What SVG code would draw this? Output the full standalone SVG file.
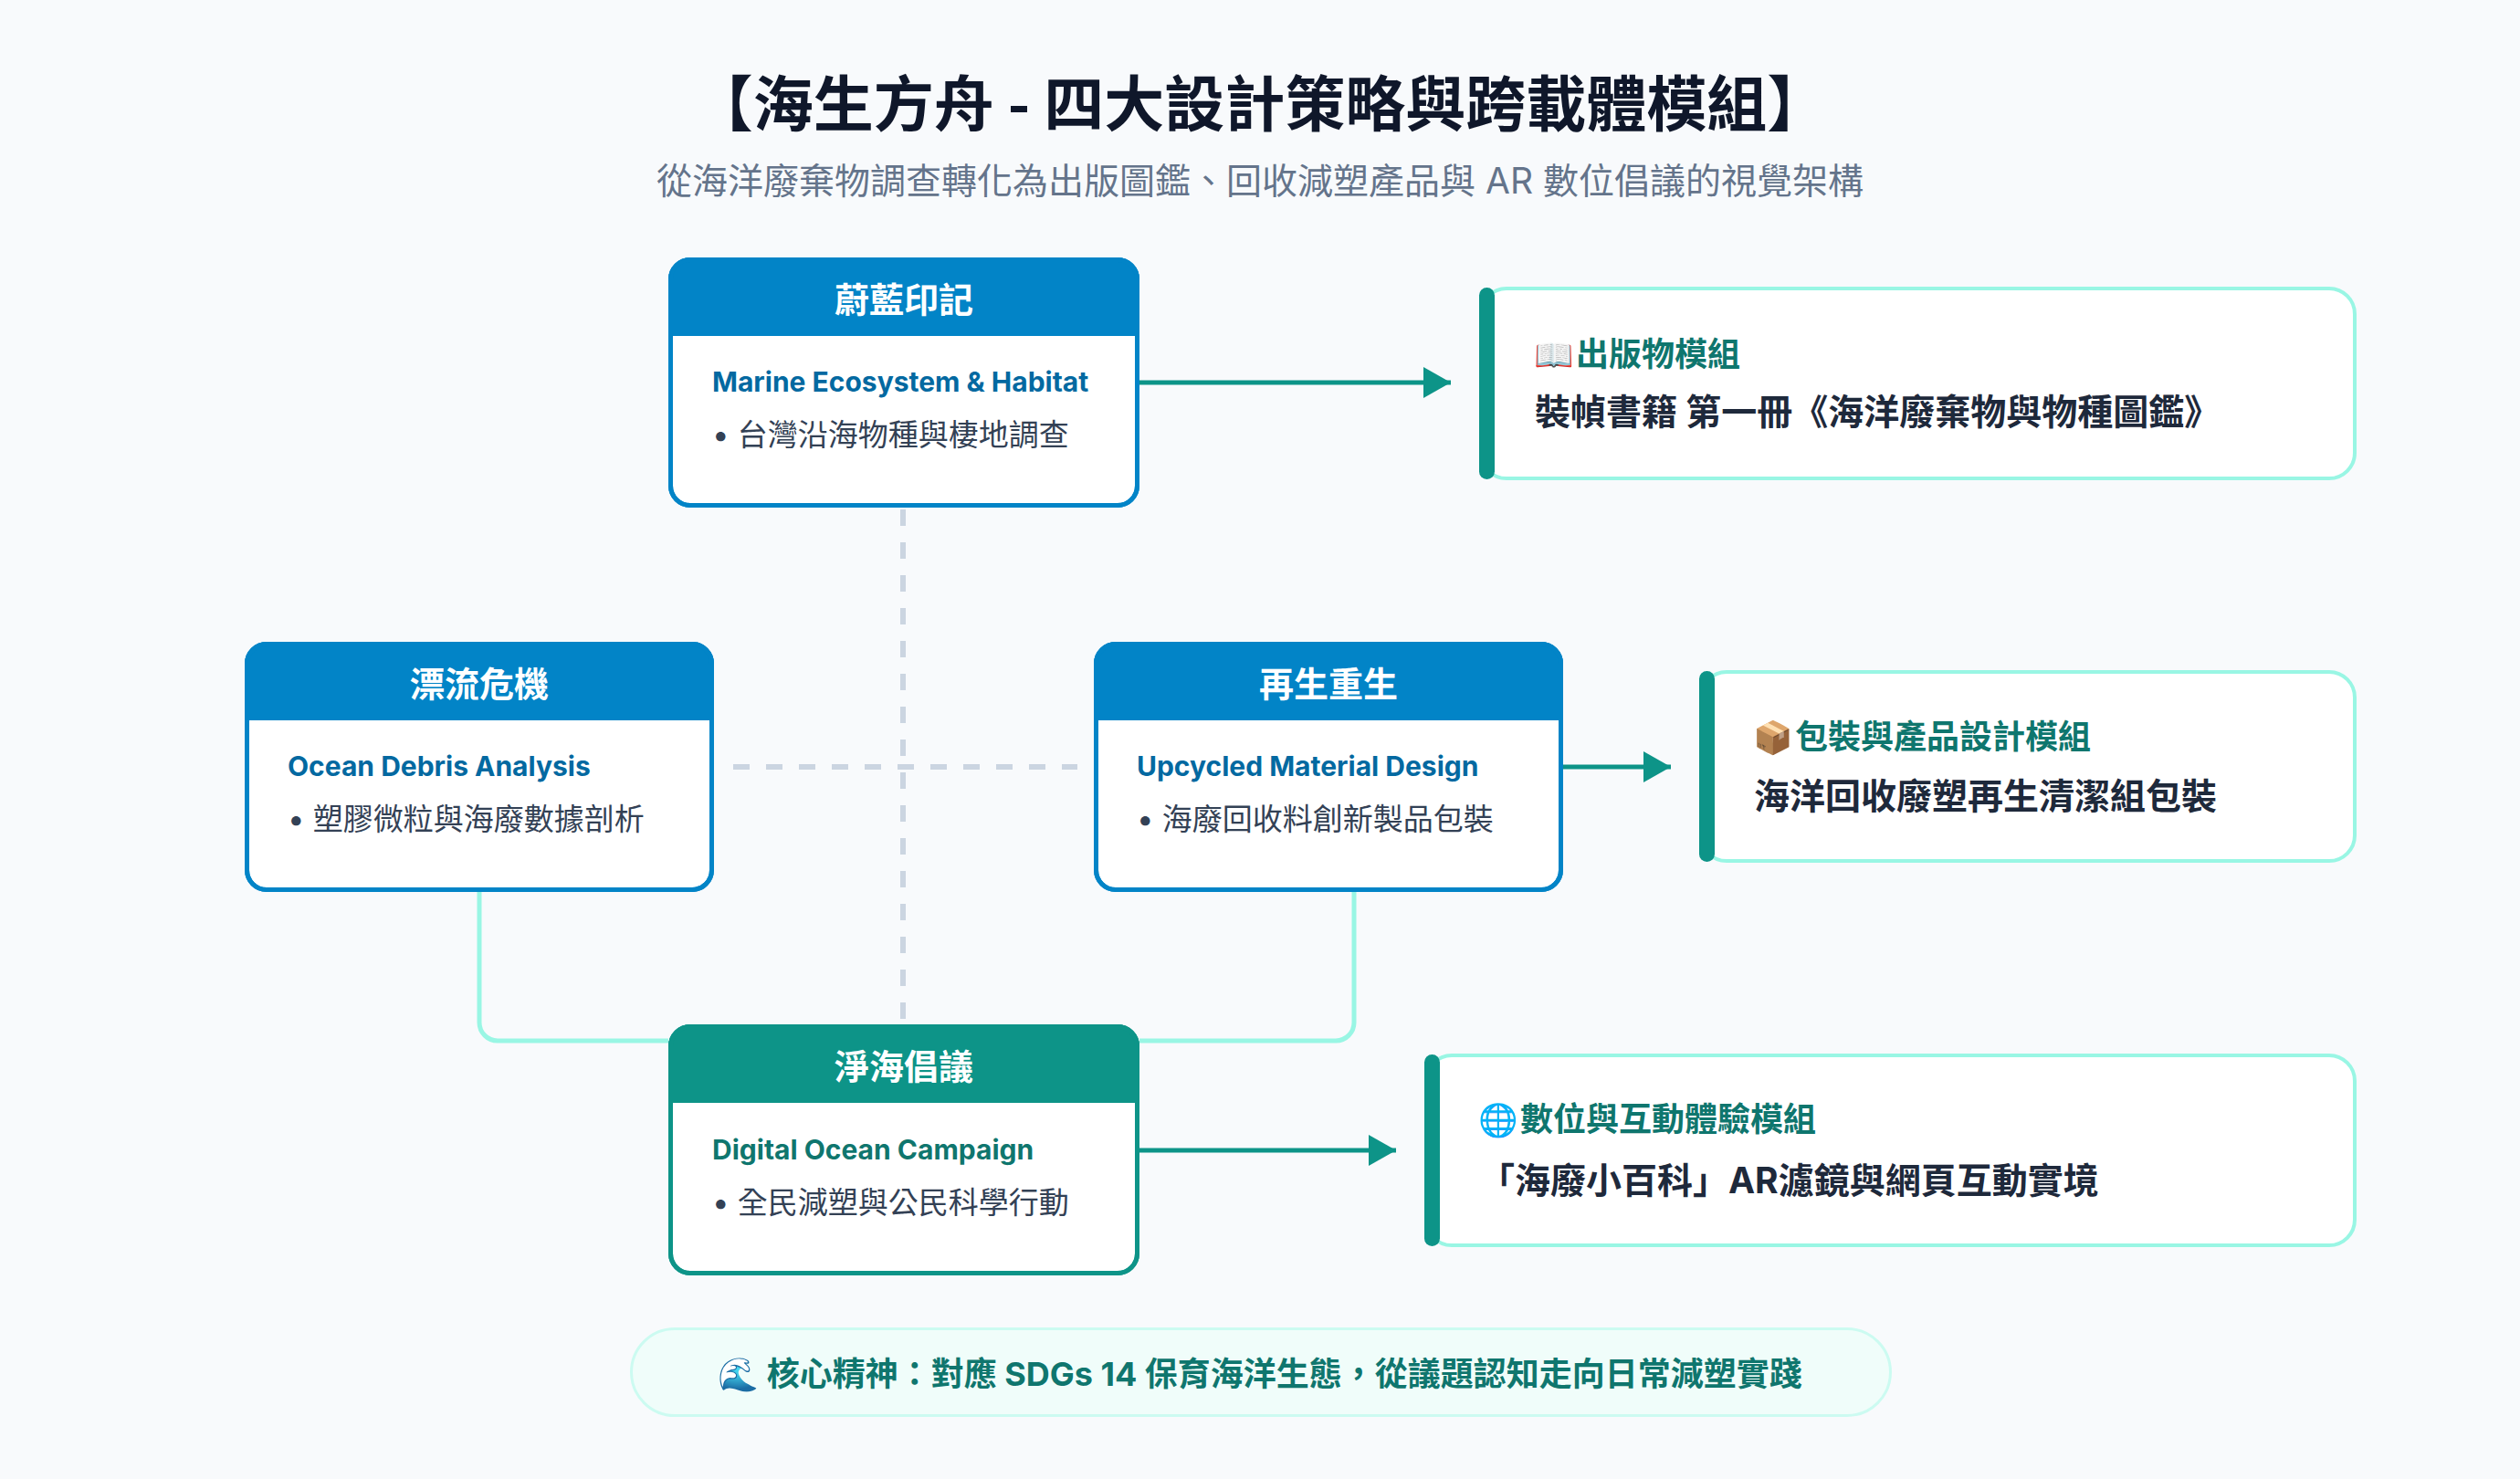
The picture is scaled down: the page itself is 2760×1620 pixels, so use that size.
<svg xmlns="http://www.w3.org/2000/svg" width="2760" height="1620" viewBox="0 0 2760 1620">
  <defs>
    <marker id="arrowTeal" markerUnits="userSpaceOnUse" markerWidth="32" markerHeight="36" refX="30" refY="17" orient="auto">
      <path d="M0,0 L30,17 L0,34 Z" fill="#0d9488"/>
    </marker>
    <style>
      .t { font-family: Inter, "Noto Sans CJK TC", "Noto Sans", sans-serif; dominant-baseline: central; }
      .title { font-family: "Noto Sans CJK TC", sans-serif; font-size: 66px; font-weight: 700; fill: #0f172a; text-anchor: middle; dominant-baseline: central; }
      .sub { font-size: 39px; font-weight: 400; fill: #64748b; text-anchor: middle; }
      .nt { font-family: "Noto Sans CJK TC", sans-serif; font-size: 38px; font-weight: 700; fill: #ffffff; text-anchor: middle; dominant-baseline: central; }
      .en { font-size: 30px; font-weight: 700; }
      .en-blue { fill: #0369a1; }
      .en-teal { fill: #0f766e; }
      .bl { font-size: 33px; font-weight: 400; fill: #334155; }
      .box { fill: #ffffff; stroke-width: 5; }
      .box-blue { stroke: #0284c7; }
      .box-teal { stroke: #0d9488; }
      .hd-blue { fill: #0284c7; }
      .hd-teal { fill: #0d9488; }
      .obox { fill: #ffffff; stroke: #99f6e4; stroke-width: 4; }
      .obar { fill: #0d9488; }
      .ot { font-size: 36px; font-weight: 700; fill: #0f766e; }
      .emo { font-size: 35px; }
      .ob { font-size: 39px; font-weight: 700; fill: #1e293b; }
      .dash { stroke: #cbd5e1; stroke-width: 6; stroke-dasharray: 18 18; fill: none; }
      .mint { stroke: #99f6e4; stroke-width: 5; fill: none; }
      .arrow { stroke: #0d9488; stroke-width: 5; fill: none; marker-end: url(#arrowTeal); }
      .banner { fill: #f0fdfa; stroke: #ccfbf1; stroke-width: 3; }
      .bt { font-size: 36px; font-weight: 700; fill: #0f766e; text-anchor: middle; }
    </style>
  </defs>

  <rect x="0" y="0" width="2760" height="1620" fill="#f8fafc"/>

  <g id="header">
    <text class="title" x="1380" y="109">【海生方舟 - 四大設計策略與跨載體模組】</text>
    <text class="t sub" x="1380" y="197">從海洋廢棄物調查轉化為出版圖鑑、回收減塑產品與 AR 數位倡議的視覺架構</text>
  </g>

  <g id="connectors">
    <line class="dash" x1="989" y1="558" x2="989" y2="1122"/>
    <line class="dash" x1="803" y1="840" x2="1180" y2="840"/>
    <path class="mint" d="M525,977 V1120 A20,20 0 0 0 545,1140 H732"/>
    <path class="mint" d="M1483,977 V1120 A20,20 0 0 1 1463,1140 H1248"/>
    <line class="arrow" x1="1248" y1="419" x2="1589" y2="419"/>
    <line class="arrow" x1="1712" y1="840" x2="1830" y2="840"/>
    <line class="arrow" x1="1248" y1="1260" x2="1529" y2="1260"/>
  </g>

  <g id="node-weilan">
    <rect class="box box-blue" x="734.5" y="284.5" width="511" height="269" rx="21.5"/>
    <path class="hd-blue" d="M732,368 V306 A24,24 0 0 1 756,282 H1224 A24,24 0 0 1 1248,306 V368 Z"/>
    <rect x="734.5" y="284.5" width="511" height="269" rx="21.5" fill="none" stroke="#0284c7" stroke-width="5"/>
    <text class="nt" x="990" y="325">蔚藍印記</text>
    <text class="t en en-blue" x="780" y="418">Marine Ecosystem &amp; Habitat</text>
    <text class="t bl" x="780" y="476">• 台灣沿海物種與棲地調查</text>
  </g>

  <g id="node-piaoliu">
    <rect class="box box-blue" x="270.5" y="705.5" width="509" height="269" rx="21.5"/>
    <path class="hd-blue" d="M268,789 V727 A24,24 0 0 1 292,703 H758 A24,24 0 0 1 782,727 V789 Z"/>
    <rect x="270.5" y="705.5" width="509" height="269" rx="21.5" fill="none" stroke="#0284c7" stroke-width="5"/>
    <text class="nt" x="525" y="746">漂流危機</text>
    <text class="t en en-blue" x="315" y="839">Ocean Debris Analysis</text>
    <text class="t bl" x="315" y="897">• 塑膠微粒與海廢數據剖析</text>
  </g>

  <g id="node-zaisheng">
    <rect class="box box-blue" x="1200.5" y="705.5" width="509" height="269" rx="21.5"/>
    <path class="hd-blue" d="M1198,789 V727 A24,24 0 0 1 1222,703 H1688 A24,24 0 0 1 1712,727 V789 Z"/>
    <rect x="1200.5" y="705.5" width="509" height="269" rx="21.5" fill="none" stroke="#0284c7" stroke-width="5"/>
    <text class="nt" x="1455" y="746">再生重生</text>
    <text class="t en en-blue" x="1245" y="839">Upcycled Material Design</text>
    <text class="t bl" x="1245" y="897">• 海廢回收料創新製品包裝</text>
  </g>

  <g id="node-jinghai">
    <rect class="box box-teal" x="734.5" y="1124.5" width="511" height="270" rx="21.5"/>
    <path class="hd-teal" d="M732,1208 V1146 A24,24 0 0 1 756,1122 H1224 A24,24 0 0 1 1248,1146 V1208 Z"/>
    <rect x="734.5" y="1124.5" width="511" height="270" rx="21.5" fill="none" stroke="#0d9488" stroke-width="5"/>
    <text class="nt" x="990" y="1165">淨海倡議</text>
    <text class="t en en-teal" x="780" y="1259">Digital Ocean Campaign</text>
    <text class="t bl" x="780" y="1317">• 全民減塑與公民科學行動</text>
  </g>

  <g id="out-publication">
    <rect class="obox" x="1622" y="316" width="957" height="208" rx="28"/>
    <rect class="obar" x="1620" y="315" width="17" height="210" rx="8.5"/>
    <text class="t emo" x="1680" y="388">📖</text>
    <text class="t ot" x="1726" y="388">出版物模組</text>
    <text class="t ob" x="1681" y="450">裝幀書籍 第一冊《海洋廢棄物與物種圖鑑》</text>
  </g>

  <g id="out-packaging">
    <rect class="obox" x="1863" y="736" width="716" height="207" rx="28"/>
    <rect class="obar" x="1861" y="735" width="17" height="209" rx="8.5"/>
    <text class="t emo" x="1920" y="807">📦</text>
    <text class="t ot" x="1966" y="807">包裝與產品設計模組</text>
    <text class="t ob" x="1921" y="871">海洋回收廢塑再生清潔組包裝</text>
  </g>

  <g id="out-digital">
    <rect class="obox" x="1562" y="1156" width="1017" height="208" rx="28"/>
    <rect class="obar" x="1560" y="1155" width="17" height="210" rx="8.5"/>
    <text class="t emo" x="1619" y="1226">🌐</text>
    <text class="t ot" x="1665" y="1226">數位與互動體驗模組</text>
    <text class="t ob" x="1620" y="1292">「海廢小百科」AR濾鏡與網頁互動實境</text>
  </g>

  <g id="banner">
    <rect class="banner" x="691.5" y="1455.5" width="1379" height="95" rx="47.5"/>
    <text class="t bt" x="1380" y="1505">🌊 核心精神：對應 SDGs 14 保育海洋生態，從議題認知走向日常減塑實踐</text>
  </g>
</svg>
